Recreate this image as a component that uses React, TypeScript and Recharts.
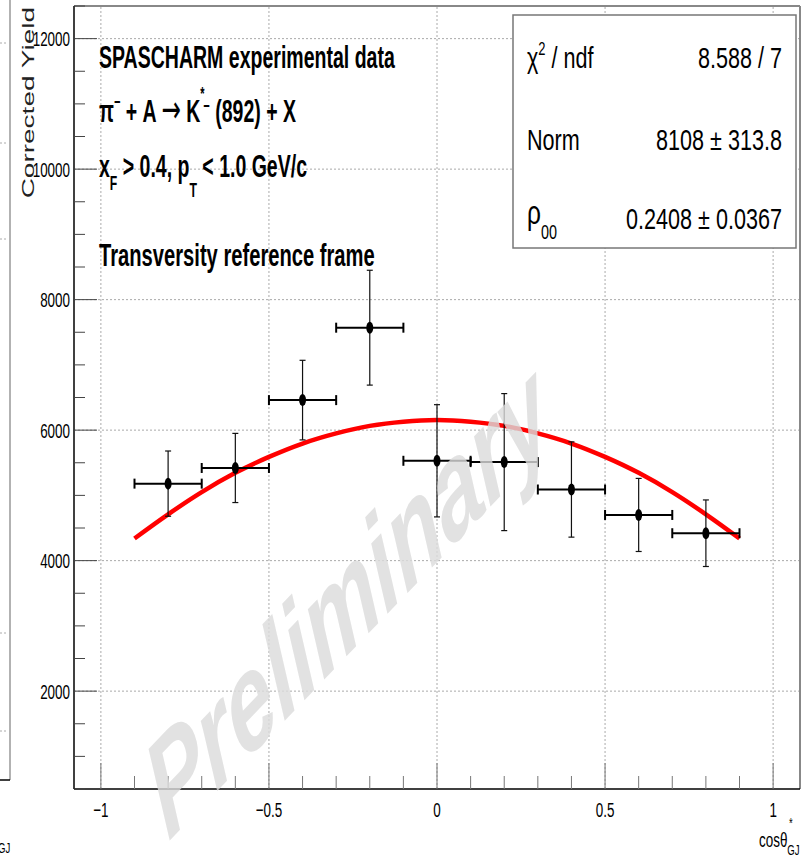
import { ComposedChart, Line, Scatter, XAxis, YAxis, ReferenceLine, ErrorBar } from 'recharts'

// measured points (cos theta_GJ bins, corrected yield)
const cosBins = [-0.8, -0.6, -0.4, -0.2, 0, 0.2, 0.4, 0.6, 0.8]
const yields = [5180, 5420, 6460, 7570, 5530, 5510, 5090, 4700, 4420]
const yieldErr = [500, 530, 610, 880, 860, 1050, 730, 560, 510]
const binHalfWidth = [0.1, 0.1, 0.1, 0.1, 0.1, 0.1, 0.1, 0.1, 0.1]

// red fit curve
const fitCos = [-0.9, -0.8, -0.7, -0.6, -0.5, -0.4, -0.3, -0.2, -0.1, 0, 0.1, 0.2, 0.3, 0.4, 0.5, 0.6, 0.7, 0.8, 0.9]
const fitYield = [4340, 4710, 5050, 5345, 5590, 5795, 5950, 6065, 6130, 6155, 6130, 6065, 5950, 5795, 5590, 5345, 5050, 4710, 4340]

const xTicks = [-1, -0.9, -0.8, -0.7, -0.6, -0.5, -0.4, -0.3, -0.2, -0.1, 0, 0.1, 0.2, 0.3, 0.4, 0.5, 0.6, 0.7, 0.8, 0.9, 1]
const xLabelTicks = [-1, -0.5, 0, 0.5, 1]
const yTicks = [500, 1000, 1500, 2000, 2500, 3000, 3500, 4000, 4500, 5000, 5500, 6000, 6500, 7000, 7500, 8000, 8500, 9000, 9500, 10000, 10500, 11000, 11500, 12000, 12500]
const yLabelTicks = [2000, 4000, 6000, 8000, 10000, 12000]

const points = cosBins.map((x, i) => ({ x, y: yields[i], ey: yieldErr[i], ex: binHalfWidth[i] }))
const fit = fitCos.map((x, i) => ({ x, y: fitYield[i] }))

const isMajor = (list: number[], v: number) => list.some(t => Math.abs(t - v) < 1e-9)
const fmtX = (v: number) => (v < 0 ? '\u2212' + Math.abs(v) : String(v))

const XTick = (props: any) => {
  const { x, y, payload } = props
  const major = isMajor(xLabelTicks, payload.value)
  return (
    <g>
      <line x1={x} x2={x} y1={y} y2={y - (major ? 26 : 13)} stroke="#777" />
      {major && (
        <text transform={`translate(${x},${y + 28}) scale(0.64,1)`} textAnchor="middle" fontSize={21} fill="#000">
          {fmtX(payload.value)}
        </text>
      )}
    </g>
  )
}

const YTick = (props: any) => {
  const { x, y, payload } = props
  const major = isMajor(yLabelTicks, payload.value)
  return (
    <g>
      <line x1={x} x2={x + (major ? 23 : 11)} y1={y} y2={y} stroke="#444" />
      {major && (
        <text transform={`translate(${x - 4},${y + 7.5}) scale(0.64,1)`} textAnchor="end" fontSize={21} fill="#000">
          {payload.value}
        </text>
      )}
    </g>
  )
}

const Marker = (props: any) => <ellipse cx={props.cx} cy={props.cy} rx={3.5} ry={6} fill="#000" />

const grid = { stroke: '#aaa', strokeDasharray: '2 2', strokeWidth: 1 }

export default function App() {
  return (
    <div style={{ position: 'absolute', left: 0, top: 0, width: 804, height: 860, background: '#fff', fontFamily: '"Liberation Sans", Arial, Helvetica, sans-serif' }}>
      <ComposedChart width={804} height={860} margin={{ top: 6, right: 4, bottom: 0, left: 10 }}>
        <XAxis
          type="number"
          dataKey="x"
          domain={[-1.08, 1.08]}
          allowDataOverflow
          ticks={xTicks}
          interval={0}
          tick={<XTick />}
          tickLine={false}
          tickSize={0}
          tickMargin={0}
          height={71}
          axisLine={{ stroke: '#000', strokeWidth: 1.5 }}
        />
        <YAxis
          type="number"
          dataKey="y"
          domain={[500, 12500]}
          allowDataOverflow
          ticks={yTicks}
          interval={0}
          tick={<YTick />}
          tickLine={false}
          tickSize={0}
          tickMargin={0}
          width={64}
          axisLine={{ stroke: '#000', strokeWidth: 1.5 }}
        />
        {xLabelTicks.map(v => (
          <ReferenceLine key={'gx' + v} x={v} {...grid} />
        ))}
        {yLabelTicks.map(v => (
          <ReferenceLine key={'gy' + v} y={v} {...grid} />
        ))}
        <ReferenceLine y={12500} stroke="#888" strokeWidth={2} />
        <ReferenceLine x={1.08} stroke="#888" strokeWidth={2} />
        <Line data={fit} dataKey="y" type="monotone" stroke="#ff0000" strokeWidth={4.5} dot={false} isAnimationActive={false} />
        <Scatter data={points} dataKey="y" shape={<Marker />} isAnimationActive={false}>
          <ErrorBar dataKey="ey" direction="y" width={3} stroke="#111" strokeWidth={1.2} isAnimationActive={false} />
          <ErrorBar dataKey="ex" direction="x" width={5} stroke="#000" strokeWidth={2} isAnimationActive={false} />
        </Scatter>
      </ComposedChart>

      <svg width={804} height={860} style={{ position: 'absolute', left: 0, top: 0, pointerEvents: 'none' }}>
        {/* edge of the neighbouring pad */}
        <line x1={10} x2={10} y1={0} y2={780} stroke="#999" strokeWidth={1.5} />
        <line x1={0} x2={10} y1={780} y2={780} stroke="#000" strokeWidth={1.5} />
        {[43, 143, 239, 633, 731].map(v => (
          <line key={v} x1={0} x2={8} y1={v} y2={v} stroke="#aaa" strokeDasharray="2 2" />
        ))}
        <text transform="translate(-2,853) scale(0.64,1)" fontSize={15} fill="#000">GJ</text>

        {/* y title */}
        <text transform="translate(33.5,7) scale(0.6,1) rotate(-90)" textAnchor="end" fontSize={28} fill="#222">
          Corrected Yield
        </text>

        {/* x title */}
        <g transform="translate(759,847) scale(0.64,1)">
          <text fontSize={21} fill="#000">
            {'cos\u03b8'}
            <tspan fontSize={15} dy={8}>GJ</tspan>
          </text>
        </g>
        <text transform="translate(789,828) scale(0.64,1)" fontSize={15} fill="#000">*</text>

        {/* watermark */}
        <text
          transform="translate(347,598) scale(0.6,1) rotate(-32)"
          textAnchor="middle"
          dominantBaseline="central"
          fontSize={140}
          fontWeight="bold"
          fontStyle="italic"
          fill="#dcdcdc"
          opacity={0.8}
        >
          Preliminary
        </text>

        {/* annotations */}
        <g transform="translate(99,68) scale(0.61,1)">
          <text fontSize={32} fontWeight="bold" fill="#000" textLength={485} lengthAdjust="spacingAndGlyphs">
            SPASCHARM experimental data
          </text>
        </g>
        <g transform="translate(99,122) scale(0.61,1)">
          <text fontSize={32} fontWeight="bold" fill="#000">
            π<tspan fontSize={18} dy={-14}>−</tspan>
            <tspan dy={14}> + A </tspan>
            <tspan fontFamily="DejaVu Sans" fontWeight="normal" fontSize={38}>→</tspan>
            <tspan> K</tspan>
            <tspan fontSize={18} dy={-22}>*</tspan>
            <tspan fontSize={18} dx={-2} dy={12}>−</tspan>
            <tspan dy={10}> (892) + X</tspan>
          </text>
        </g>
        <g transform="translate(99,177) scale(0.61,1)">
          <text fontSize={32} fontWeight="bold" fill="#000">
            x<tspan fontSize={20} dy={13}>F</tspan>
            <tspan dy={-13}> &gt; 0.4, p</tspan>
            <tspan fontSize={20} dy={20}>T</tspan>
            <tspan dy={-20}> &lt; 1.0 GeV/c</tspan>
          </text>
        </g>
        <g transform="translate(99,266) scale(0.61,1)">
          <text fontSize={32} fontWeight="bold" fill="#000" textLength={452} lengthAdjust="spacingAndGlyphs">
            Transversity reference frame
          </text>
        </g>

        {/* fit statistics box */}
        <rect x={513} y={15} width={283} height={233} fill="#fff" stroke="#777" strokeWidth={1.5} />
        <g transform="translate(527,68) scale(0.72,1)">
          <text fontSize={30} fill="#000">
            χ<tspan fontSize={18} dy={-13}>2</tspan>
            <tspan dy={13}> / ndf</tspan>
          </text>
        </g>
        <g transform="translate(782,68) scale(0.72,1)">
          <text fontSize={30} fill="#000" textAnchor="end">8.588 / 7</text>
        </g>
        <g transform="translate(527,150) scale(0.72,1)">
          <text fontSize={30} fill="#000">Norm</text>
        </g>
        <g transform="translate(782,150) scale(0.72,1)">
          <text fontSize={30} fill="#000" textAnchor="end">8108 ± 313.8</text>
        </g>
        <g transform="translate(527,224) scale(0.72,1)">
          <text fontSize={34} fill="#000">
            ρ<tspan fontSize={20} dy={15}>00</tspan>
          </text>
        </g>
        <g transform="translate(782,229) scale(0.72,1)">
          <text fontSize={30} fill="#000" textAnchor="end">0.2408 ± 0.0367</text>
        </g>
      </svg>
    </div>
  )
}
